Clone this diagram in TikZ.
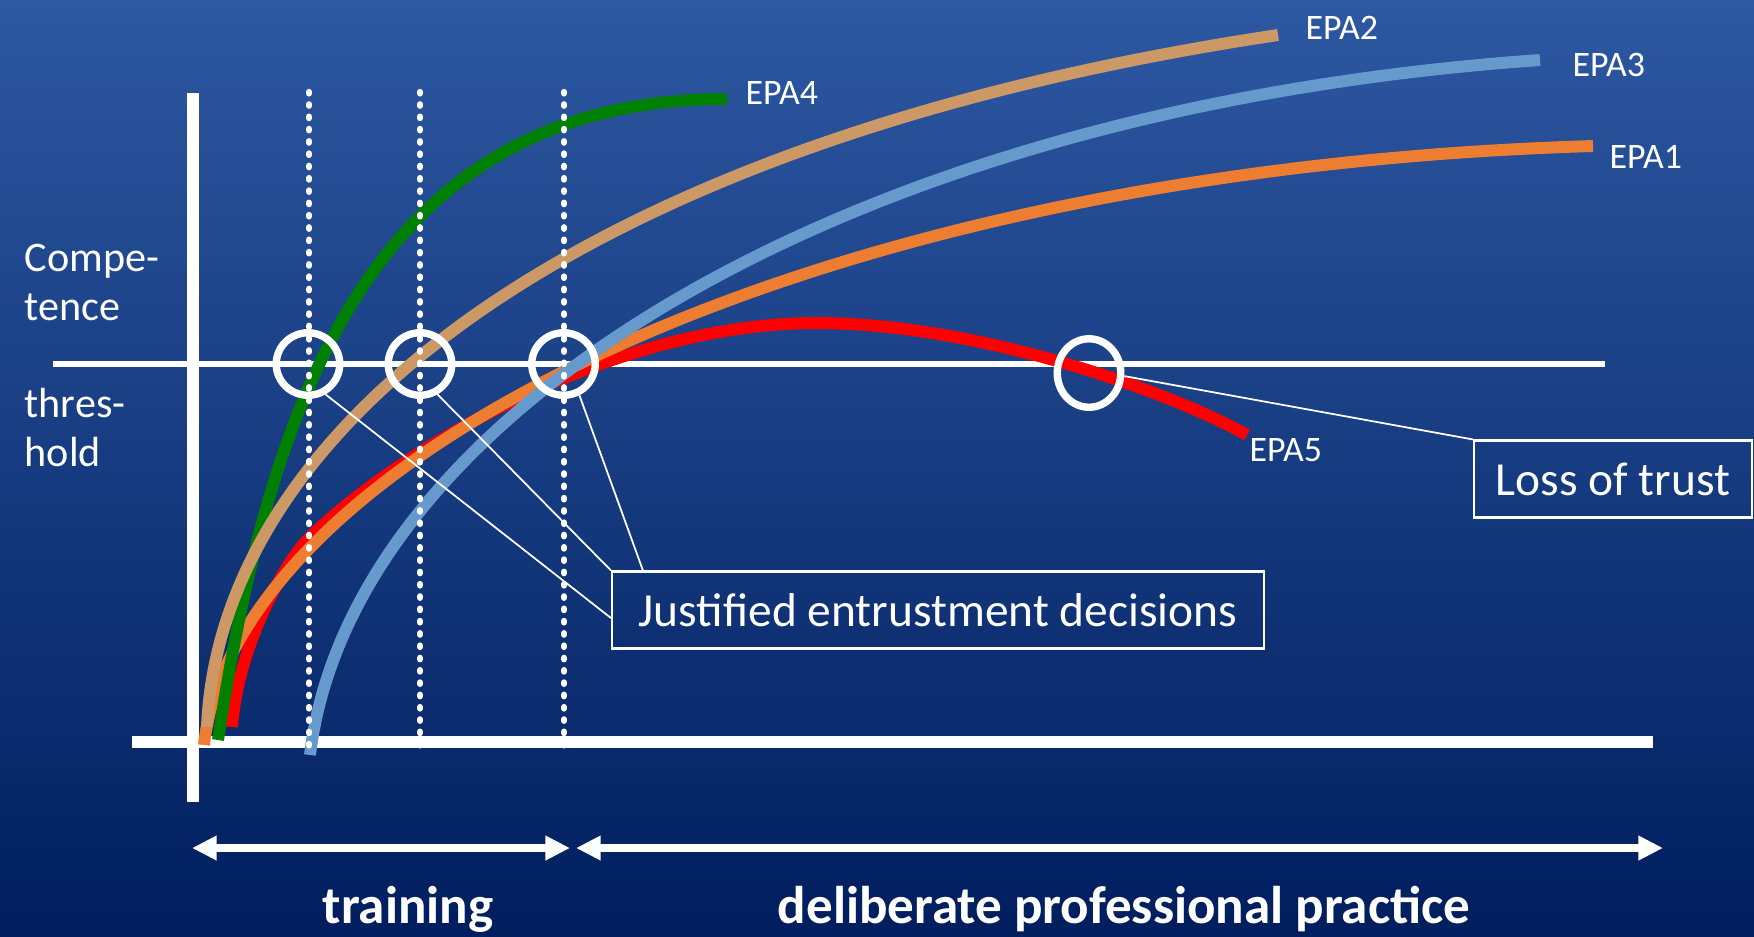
\documentclass[tikz,border=0pt]{standalone}
\usepackage{fontspec}
\setmainfont{Carlito}
\usetikzlibrary{scopes,calc,arrows.meta,shapes.geometric}
\definecolor{bgtop}{RGB}{45,88,162}
\definecolor{bgbot}{RGB}{0,30,94}
\definecolor{epaone}{RGB}{237,125,49}
\definecolor{epatwo}{RGB}{204,153,102}
\definecolor{epathree}{RGB}{102,153,204}
\definecolor{epafour}{RGB}{0,128,0}
\definecolor{epafive}{RGB}{255,0,0}

\begin{document}
\begin{tikzpicture}[
    x=0.1mm, y=-0.1mm,
    axis/.style={draw=white,line width=3.5pt},
    grid/.style={draw=white,line width=1.8pt,line cap=round,dash pattern=on 0.4pt off 3.1pt},
    epa/.style={line width=3.4pt},
    ring/.style={ellipse,draw=white,line width=2.1pt,inner sep=0pt,minimum width=6.35mm,minimum height=6.25mm},
    lead/.style={draw=white,line width=0.5pt},
    box/.style={draw=white,line width=0.6pt,text=white,font=\fontsize{13.5}{16}\selectfont,minimum height=7.7mm},
    tag/.style={text=white,font=\fontsize{10.2}{12}\selectfont,inner sep=0pt,anchor=west},
    side/.style={text=white,font=\fontsize{12}{14.2}\selectfont,inner sep=0pt,align=left,anchor=north west},
    phase/.style={text=white,font=\fontsize{15.1}{18}\selectfont\bfseries,inner sep=0pt,anchor=base},
    span/.style={draw=white,line width=2.3pt,>={Triangle[length=7pt,width=6.6pt]},<->},
]
    \shade[top color=bgtop,bottom color=bgbot] (0,0) rectangle (1754,936);
    \useasboundingbox (0,0) rectangle (1754,936);

    {[axis]
        \draw (193,93) -- (193,802);
        \draw (132,742) -- (1653,742);
        \draw[line width=1.7pt] (53,364) -- (1605,364);
    }

    {[epa]
        \draw[epafive] (232,727) .. controls (238,645) and (285,562) .. (309,538)
            .. controls (403,446) and (617,323) .. (817,323)
            .. controls (967,323) and (1157,385) .. (1247,435);
        \draw[epaone] (204,745) .. controls (234,465) and (793,170) .. (1593,146);
        \draw[epafour] (218,740) .. controls (271,388) and (380,99) .. (727,99);
        \draw[epatwo] (207,727) .. controls (220,427) and (578,140) .. (1278,35);
        \draw[epathree] (310,755) .. controls (351,415) and (840,109) .. (1540,60);
    }

    \foreach \x in {309,420,564}
        \draw[grid] (\x,92) -- (\x,754);

    \node[ring] (c1) at (308,364) {};
    \node[ring] (c2) at (420,364) {};
    \node[ring] (c3) at (563.5,364) {};
    \node[ring,minimum height=6.85mm] (c4) at (1089,373) {};

    \node[box,minimum width=65.2mm] (j) at (938,610) {Justified entrustment decisions};
    \node[box,minimum width=27.8mm] (l) at (1613,479) {Loss of trust};

    {[lead]
        \draw (c1.-60) -- ($(j.west)+(0,8)$);
        \draw (c2.-60) -- (j.north west);
        \draw (c3.-63) -- ($(j.north west)+(32,0)$);
        \draw (c4.-5) -- (l.north west);
    }

    \node[tag] (e4) at (745,93) {EPA4};
    \node[tag] (e2) at (1305,28) {EPA2};
    \node[tag] (e3) at (1572,65) {EPA3};
    \node[tag] (e1) at (1609,157) {EPA1};
    \node[tag] (e5) at (1249,450) {EPA5};

    \node[side] (comp) at (24,243) {Compe-\\tence};
    \node[side] (thr) at (24,387) {thres-\\hold};

    \coordinate (t0) at (192,848);
    \coordinate (t1) at (570,848);
    \coordinate (p0) at (576,848);
    \coordinate (p1) at (1663,848);
    \draw[span] (t0) -- (t1);
    \draw[span] (p0) -- (p1);
    \node[phase] (tr) at (408,923) {training};
    \node[phase] (pr) at (1124,923) {deliberate professional practice};
\end{tikzpicture}
\end{document}
